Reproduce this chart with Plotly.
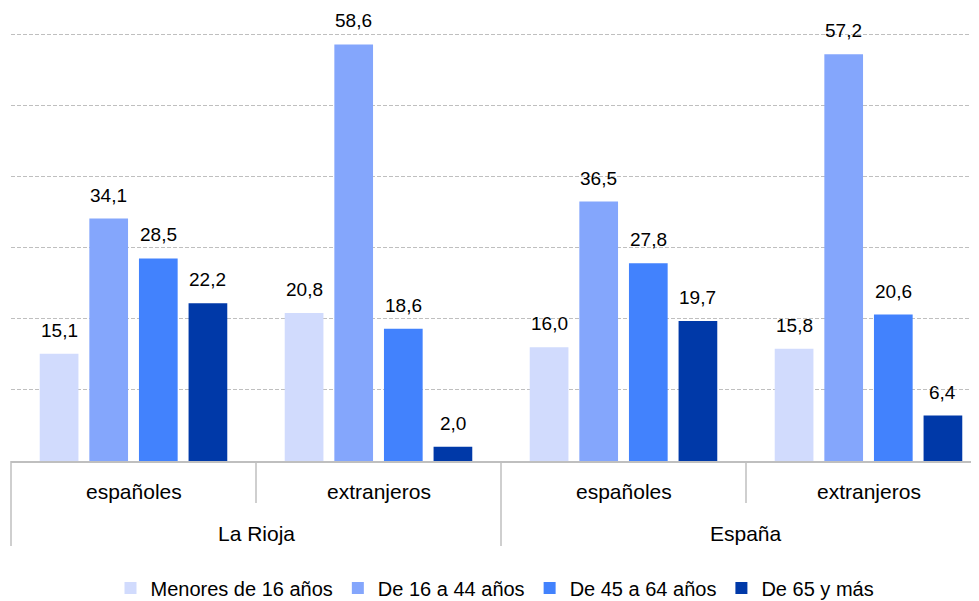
import plotly.graph_objects as go

# ---- data ----
outer_labels = ["La Rioja", "La Rioja", "España", "España"]
inner_labels = ["españoles", "extranjeros", "españoles", "extranjeros"]

series_names = ["Menores de 16 años", "De 16 a 44 años", "De 45 a 64 años", "De 65 y más"]
menores_16 = [15.1, 20.8, 16.0, 15.8]
de_16_a_44 = [34.1, 58.6, 36.5, 57.2]
de_45_a_64 = [28.5, 18.6, 27.8, 20.6]
de_65_mas = [22.2, 2.0, 19.7, 6.4]
series_values = [menores_16, de_16_a_44, de_45_a_64, de_65_mas]

colors = ["#D1DBFD", "#84A6FC", "#4282FD", "#0039A8"]

FONT = "Liberation Sans, Arial, Helvetica, sans-serif"

# ---- geometry / style ----
# (the page body adds an 8px offset, so the figure is 8px smaller each way)
W, H = 971, 593
ML, MR, MT, MB = 3, 0, 25, 140
plot_w = W - ML - MR
plot_h = H - MT - MB
unit_px = 245.0
x0 = -0.5
x1 = x0 + plot_w / unit_px
BARGAP = 0.19
BARGROUPGAP = 0.22
Y_MAX = 60.2


def xp(v):
    return (v - x0) / (x1 - x0)


def yp(px_below):
    return -px_below / plot_h


fig = go.Figure()
for name, vals, col in zip(series_names, series_values, colors):
    fig.add_trace(go.Bar(
        x=[outer_labels, inner_labels],
        y=vals,
        name=name,
        marker=dict(color=col, line=dict(width=0)),
        cliponaxis=False,
    ))

annotations = []
# value labels above bars (positions follow the grouped-bar layout)
n_series = len(series_values)
slot = (1 - BARGAP) / n_series
for k, vals in enumerate(series_values):
    for i, v in enumerate(vals):
        cx = i - (1 - BARGAP) / 2 + slot * (k + 0.5)
        annotations.append(dict(
            x=xp(cx), xref="paper", y=v, yref="y",
            text=f"{v:.1f}".replace(".", ","), showarrow=False,
            xanchor="center", yanchor="bottom", yshift=11,
            font=dict(size=19, family=FONT, color="#000000"),
        ))

# category labels (two rows)
n = len(inner_labels)
for i, lab in enumerate(inner_labels):
    annotations.append(dict(
        x=xp(i), xref="paper", y=yp(30), yref="paper", text=lab,
        showarrow=False, xanchor="center", yanchor="middle",
        font=dict(size=21, family=FONT, color="#000000"),
    ))
seen = []
for lab in outer_labels:
    if lab not in seen:
        seen.append(lab)
for lab in seen:
    idx = [i for i, o in enumerate(outer_labels) if o == lab]
    c = (idx[0] + idx[-1]) / 2
    annotations.append(dict(
        x=xp(c), xref="paper", y=yp(72), yref="paper", text=lab,
        showarrow=False, xanchor="center", yanchor="middle",
        font=dict(size=21, family=FONT, color="#000000"),
    ))

shapes = []
# separators: outer boundaries span both label rows, inner boundaries span the first row
for i in range(n + 1):
    b = i - 0.5
    if b > x1:
        continue
    if i == 0 or i == n or outer_labels[i - 1] != outer_labels[min(i, n - 1)]:
        depth = 85
    else:
        depth = 42
    shapes.append(dict(type="line", xref="paper", yref="paper",
                       x0=xp(b), x1=xp(b), y0=0, y1=yp(depth),
                       line=dict(color="#BFBFBF", width=1.5)))

fig.update_layout(
    width=W, height=H,
    margin=dict(l=ML, r=MR, t=MT, b=MB, autoexpand=False),
    paper_bgcolor="white", plot_bgcolor="white",
    barmode="group", bargap=BARGAP, bargroupgap=BARGROUPGAP,
    separators=",.",
    font=dict(family=FONT, color="#000000"),
    showlegend=True,
    legend=dict(orientation="h", x=0.5, xanchor="center", y=yp(127), yanchor="middle",
                font=dict(size=20, family=FONT), traceorder="normal",
                tracegroupgap=0, itemwidth=30),
    shapes=shapes,
    annotations=annotations,
    xaxis=dict(type="multicategory", range=[x0, x1], showdividers=False,
               showticklabels=False, automargin=False,
               showline=True, linecolor="#BFBFBF", linewidth=1.5,
               ticks="", showgrid=False, zeroline=False),
    yaxis=dict(range=[0, Y_MAX], dtick=10, showticklabels=False, ticks="",
               automargin=False,
               showgrid=True, gridcolor="#BFBFBF", gridwidth=1, griddash="4px,2px",
               zeroline=False, showline=False),
)

fig.write_html("out.html")
